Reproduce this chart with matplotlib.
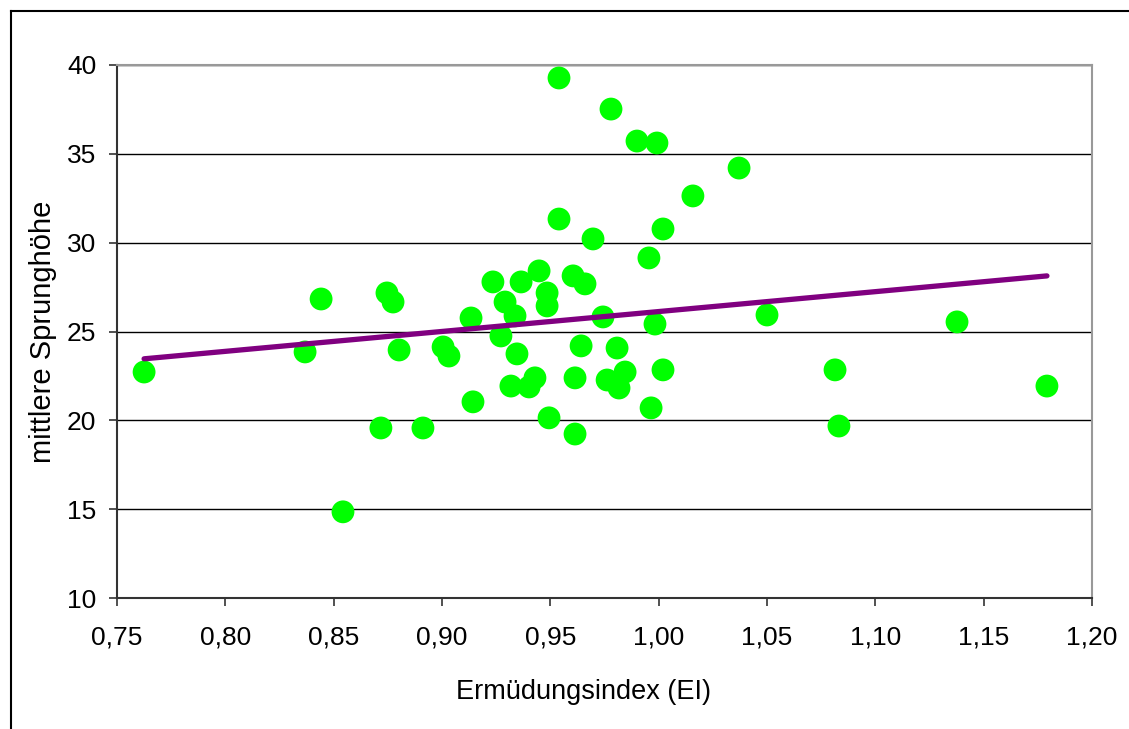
import matplotlib
matplotlib.use("Agg")
import matplotlib.pyplot as plt
import numpy as np
from matplotlib.ticker import FuncFormatter

plt.rcParams['font.family'] = ['Liberation Sans', 'DejaVu Sans']

# Ermüdungsindex (EI) und mittlere Sprunghöhe je Proband
ei = [0.7625, 0.8368, 0.8442, 0.8543, 0.8718, 0.8746, 0.8774, 0.8802, 0.8912,
      0.9005, 0.9032, 0.9134, 0.9143, 0.9235, 0.9272, 0.9291, 0.9318, 0.9337,
      0.9346, 0.9365, 0.9402, 0.9429, 0.9448, 0.9485, 0.9485, 0.9494, 0.9540,
      0.9540, 0.9605, 0.9614, 0.9614, 0.9642, 0.9660, 0.9697, 0.9743, 0.9762,
      0.9780, 0.9808, 0.9817, 0.9845, 0.9900, 0.9955, 0.9965, 0.9983, 0.9992,
      1.0020, 1.0020, 1.0158, 1.0371, 1.0500, 1.0814, 1.0832, 1.1377, 1.1792]
hoehe = [22.72, 23.85, 26.83, 14.85, 19.57, 27.17, 26.66, 23.96, 19.57,
         24.13, 23.62, 25.76, 21.04, 27.79, 24.75, 26.66, 21.93, 25.88,
         23.74, 27.79, 21.88, 22.39, 28.41, 27.17, 26.44, 20.14, 39.27,
         31.33, 28.13, 19.23, 22.39, 24.19, 27.68, 30.21, 25.82, 22.27,
         37.52, 24.07, 21.82, 22.72, 35.72, 29.14, 20.70, 25.42, 35.61,
         30.77, 22.84, 32.63, 34.20, 25.93, 22.84, 19.68, 25.54, 21.93]

x_ticks = [0.75, 0.80, 0.85, 0.90, 0.95, 1.00, 1.05, 1.10, 1.15, 1.20]
y_ticks = [10, 15, 20, 25, 30, 35, 40]

fig = plt.figure(figsize=(11.29, 7.29), dpi=100)
ax = fig.add_axes([117 / 1129, 1 - 598 / 729, 975 / 1129, 533 / 729])

# Rahmen um das Diagramm
fig.add_artist(plt.Line2D([11 / 1129, 1.0], [1 - 11 / 729] * 2, color='black', lw=1.5))
fig.add_artist(plt.Line2D([11 / 1129] * 2, [0.0, 1 - 11 / 729], color='black', lw=1.5))

x = np.array(ei)
y = np.array(hoehe)
ax.scatter(x, y, s=270, color='#00ff00', edgecolors='none', zorder=3)

# lineare Trendlinie
m, b = np.polyfit(x, y, 1)
xs = np.array([x.min(), x.max()])
ax.plot(xs, m * xs + b, color='#800080', lw=3.8, solid_capstyle='round', zorder=4)

ax.set_xlim(0.75, 1.20)
ax.set_ylim(10, 40)
ax.set_xticks(x_ticks)
ax.set_yticks(y_ticks)
ax.xaxis.set_major_formatter(FuncFormatter(lambda v, p: f"{v:.2f}".replace('.', ',')))
ax.yaxis.grid(True, color='black', lw=1)
ax.set_axisbelow(True)

for side in ['top', 'right']:
    ax.spines[side].set_color('#999999')
    ax.spines[side].set_linewidth(1.5)
for side in ['left', 'bottom']:
    ax.spines[side].set_color('#333333')
    ax.spines[side].set_linewidth(1.5)

ax.tick_params(axis='both', labelsize=19, length=6, width=1.2, color='#333333')
ax.tick_params(axis='y', pad=9)
ax.tick_params(axis='x', pad=14)
ax.set_xlabel('Ermüdungsindex (EI)', fontsize=19.5, labelpad=21)
ax.xaxis.label.set_x(0.478)
ax.set_ylabel('mittlere Sprunghöhe', fontsize=21, labelpad=7)

fig.savefig('out.png', dpi=100)
